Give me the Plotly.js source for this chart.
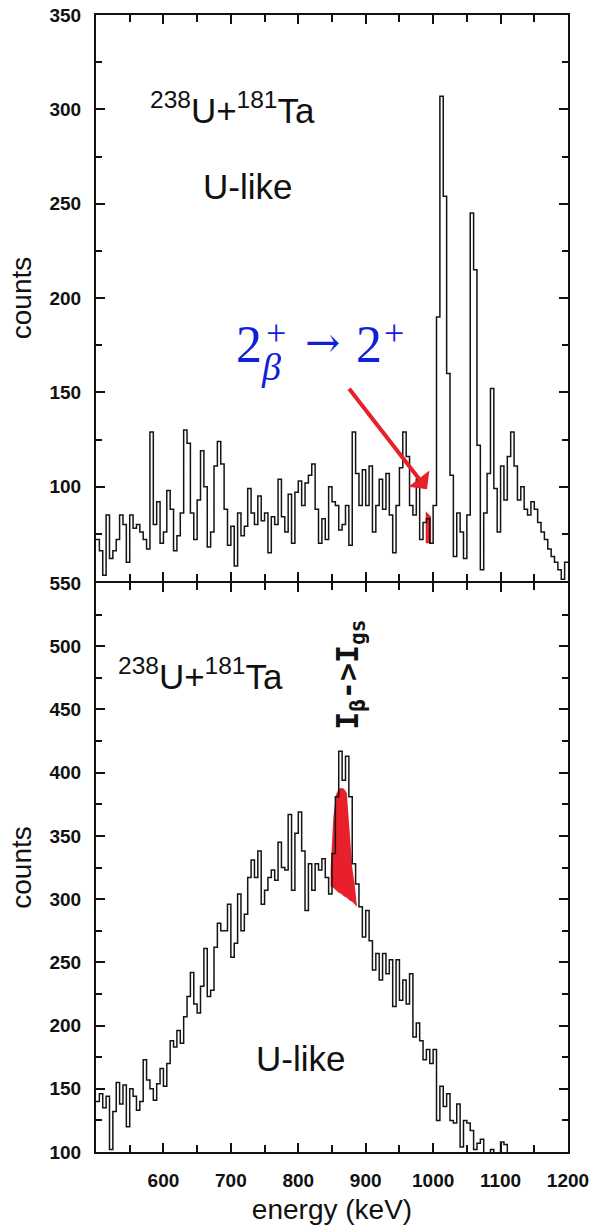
<!DOCTYPE html>
<html>
<head>
<meta charset="utf-8">
<script src="https://cdn.plot.ly/plotly-3.0.1.min.js"></script>
<style>html,body{margin:0;padding:0;background:#fff;}</style>
</head>
<body>
<div id="chart" style="width:595px;height:1227px;"></div>
<script>
// ---- data ----
const energyStart = 500;   // keV, first bin edge
const binWidth = 5;        // keV

// upper panel: 238U + 181Ta, U-like, counts per 5 keV bin from 500 to 1195 keV
const topCounts = [
  72, 66, 53, 85, 62, 66, 72, 85, 80, 60,
  85, 78, 80, 76, 72, 67, 129, 80, 92, 70,
  76, 98, 88, 66, 74, 86, 130, 123, 86, 72,
  93, 119, 100, 68, 76, 111, 124, 112, 88, 69,
  79, 58, 86, 74, 79, 99, 86, 80, 95, 82,
  86, 65, 84, 80, 104, 84, 76, 96, 70, 97,
  103, 90, 102, 106, 112, 88, 70, 83, 72, 100,
  92, 90, 77, 80, 90, 69, 129, 107, 90, 109,
  90, 111, 76, 90, 104, 88, 107, 85, 65, 90,
  110, 129, 116, 90, 85, 104, 72, 81, 83, 70,
  90, 190, 307, 254, 160, 106, 63, 86, 76, 62,
  85, 245, 215, 122, 56, 86, 107, 152, 99, 76,
  111, 93, 116, 129, 111, 93, 100, 88, 85, 92,
  88, 81, 76, 72, 67, 63, 60, 56, 51, 60
];

// lower panel: counts per 5 keV bin from 500 to 1195 keV
const bottomCounts = [
  140, 146, 135, 144, 102, 132, 155, 138, 153, 120,
  150, 144, 133, 140, 173, 157, 150, 141, 154, 166,
  152, 170, 188, 183, 196, 186, 207, 223, 242, 217,
  210, 231, 261, 223, 228, 262, 281, 275, 275, 296,
  254, 265, 304, 275, 288, 317, 331, 317, 338, 296,
  307, 317, 323, 315, 345, 325, 323, 367, 307, 352,
  369, 338, 291, 328, 307, 328, 323, 332, 317, 304,
  336, 381, 417, 394, 413, 381, 328, 312, 294, 270,
  291, 267, 244, 257, 236, 257, 241, 252, 215, 252,
  220, 236, 217, 241, 191, 202, 188, 173, 181, 170,
  181, 125, 152, 136, 146, 125, 123, 138, 104, 125,
  123, 117, 102, 107, 110, 96, 92, 102, 94, 90,
  108, 106, 92, 88, 86, 84, 82, 85, 80, 78,
  76, 74, 72, 70, 68, 66, 64, 62, 60, 58
];

// red highlighted 2beta+ -> 2+ region (upper panel)
const redTopEnergy = [989, 997];
const redTopBase = [70, 70];
const redTopPeak = [87, 84];

// red highlighted I_beta -> I_gs region (lower panel)
const redBotEnergy = [848, 852, 856, 860, 864, 868, 872, 876, 880, 884, 887];
const redBotUpper  = [325, 365, 383, 387, 388, 387, 384, 355, 325, 310, 294];
const redBotLower  = [310, 309, 307, 305, 304, 302, 301, 299, 298, 296, 294];

// tick labels
const xTickVals = [500, 600, 700, 800, 900, 1000, 1100, 1200];
const xTickText = ['', '600', '700', '800', '900', '1000', '1100', '1200'];
const topYTickVals = [50, 100, 150, 200, 250, 300, 350];
const topYTickText = ['', '100', '150', '200', '250', '300', '350'];
const botYTickVals = [100, 150, 200, 250, 300, 350, 400, 450, 500, 550];
const botYTickText = ['100', '150', '200', '250', '300', '350', '400', '450', '500', '550'];

// ---- build step histograms ----
function stepX(counts) {
  const xs = counts.map((_, i) => energyStart + i * binWidth);
  xs.push(energyStart + counts.length * binWidth);
  return xs;
}
function stepY(counts) {
  const ys = counts.slice();
  ys.push(counts[counts.length - 1]);
  return ys;
}

const BLACK = '#141414';
const RED = '#e8202c';
const BLUE = '#1020d8';

const traces = [
  {x: redTopEnergy, y: redTopBase, xaxis: 'x', yaxis: 'y', mode: 'lines',
   line: {width: 0, color: RED}, hoverinfo: 'skip'},
  {x: redTopEnergy, y: redTopPeak, xaxis: 'x', yaxis: 'y', mode: 'lines',
   fill: 'tonexty', fillcolor: RED, line: {width: 0, color: RED}, hoverinfo: 'skip'},
  {x: stepX(topCounts), y: stepY(topCounts), xaxis: 'x', yaxis: 'y', mode: 'lines',
   line: {shape: 'hv', color: BLACK, width: 1.5}},
  {x: redBotEnergy, y: redBotLower, xaxis: 'x2', yaxis: 'y2', mode: 'lines',
   line: {width: 0, color: RED}, hoverinfo: 'skip'},
  {x: redBotEnergy, y: redBotUpper, xaxis: 'x2', yaxis: 'y2', mode: 'lines',
   fill: 'tonexty', fillcolor: RED, line: {width: 0, color: RED}, hoverinfo: 'skip'},
  {x: stepX(bottomCounts), y: stepY(bottomCounts), xaxis: 'x2', yaxis: 'y2', mode: 'lines',
   line: {shape: 'hv', color: BLACK, width: 1.5}}
];

const tickFont = {family: 'Liberation Sans, Arial, sans-serif', size: 19, color: '#111', weight: 'bold'};
const common = {
  showline: true, linecolor: '#111', linewidth: 2, mirror: 'allticks',
  ticks: 'inside', ticklen: 9, tickwidth: 2, tickcolor: '#111',
  showgrid: false, zeroline: false, tickfont: tickFont, fixedrange: true
};

const split = 0.5013;
const half = 1 / 1137;

const layout = {
  width: 595, height: 1227,
  margin: {l: 96, r: 27, t: 15, b: 75},
  paper_bgcolor: '#ffffff', plot_bgcolor: '#ffffff',
  showlegend: false,
  font: {family: 'Liberation Sans, Arial, sans-serif', color: '#111'},
  xaxis: Object.assign({}, common, {
    anchor: 'y', range: [500, 1200], tickmode: 'array', tickvals: xTickVals, ticktext: xTickText,
    showticklabels: false,
    minor: {dtick: 50, tick0: 500, ticks: 'inside', ticklen: 7, tickwidth: 2, tickcolor: '#111'}
  }),
  yaxis: Object.assign({}, common, {
    domain: [split + half, 1], anchor: 'x', range: [50, 350], tickmode: 'array',
    tickvals: topYTickVals, ticktext: topYTickText, ticklabelstandoff: 9,
    minor: {dtick: 25, tick0: 50, ticks: 'inside', ticklen: 6, tickwidth: 2, tickcolor: '#111'},
    title: {text: 'counts', font: {size: 28, color: '#111'}, standoff: 10}
  }),
  xaxis2: Object.assign({}, common, {
    anchor: 'y2', range: [500, 1200], tickmode: 'array', tickvals: xTickVals, ticktext: xTickText,
    ticklabelstandoff: 10,
    minor: {dtick: 50, tick0: 500, ticks: 'inside', ticklen: 7, tickwidth: 2, tickcolor: '#111'},
    title: {text: 'energy (keV)', font: {size: 28, color: '#111'}, standoff: 10}
  }),
  yaxis2: Object.assign({}, common, {
    domain: [0, split - half], anchor: 'x2', range: [100, 550], tickmode: 'array',
    tickvals: botYTickVals, ticktext: botYTickText, ticklabelstandoff: 9,
    minor: {dtick: 25, tick0: 100, ticks: 'inside', ticklen: 6, tickwidth: 2, tickcolor: '#111'},
    title: {text: 'counts', font: {size: 28, color: '#111'}, standoff: 10}
  }),
  annotations: [
    // upper panel labels
    {xref: 'x', yref: 'y', x: 701.7, y: 300.8, text: '<sup>238</sup>U+<sup>181</sup>Ta',
     showarrow: false, font: {size: 35, color: '#111'}},
    {xref: 'x', yref: 'y', x: 724.6, y: 259, text: 'U-like',
     showarrow: false, font: {size: 35, color: '#111'}},
    // blue transition label 2_beta^+ -> 2^+
    {xref: 'x', yref: 'y', x: 727.5, y: 175.5, text: '2', showarrow: false,
     font: {family: 'Liberation Serif, DejaVu Serif, serif', size: 52, color: BLUE}},
    {xref: 'x', yref: 'y', x: 766.5, y: 181.2, text: '+', showarrow: false,
     font: {family: 'Liberation Serif, DejaVu Serif, serif', size: 36, color: BLUE}},
    {xref: 'x', yref: 'y', x: 760, y: 163.5, text: '<i>β</i>', showarrow: false,
     font: {family: 'Liberation Serif, DejaVu Serif, serif', size: 38, color: BLUE}},
    {xref: 'x', yref: 'y', x: 835.2, y: 176.3, text: '→', showarrow: false,
     font: {family: 'DejaVu Serif, Liberation Serif, serif', size: 42, color: BLUE}},
    {xref: 'x', yref: 'y', x: 904.9, y: 175.5, text: '2', showarrow: false,
     font: {family: 'Liberation Serif, DejaVu Serif, serif', size: 52, color: BLUE}},
    {xref: 'x', yref: 'y', x: 942.5, y: 181.2, text: '+', showarrow: false,
     font: {family: 'Liberation Serif, DejaVu Serif, serif', size: 36, color: BLUE}},
    // red arrow
    {xref: 'x', yref: 'y', axref: 'x', ayref: 'y', x: 990.9, y: 98.7, ax: 873.7, ay: 152.7,
     text: '', showarrow: true, arrowhead: 1, arrowsize: 1.1, arrowwidth: 4, arrowcolor: RED, standoff: 0},
    // lower panel labels
    {xref: 'x2', yref: 'y2', x: 655.7, y: 478, text: '<sup>238</sup>U+<sup>181</sup>Ta',
     showarrow: false, font: {size: 35, color: '#111'}},
    {xref: 'x2', yref: 'y2', x: 876, y: 477, text: 'I<sub>β</sub>->I<sub>gs</sub>', textangle: -90,
     showarrow: false, font: {family: 'DejaVu Sans Mono, monospace', size: 30, color: '#111', weight: 'bold'}},
    {xref: 'x2', yref: 'y2', x: 803.3, y: 174.2, text: 'U-like',
     showarrow: false, font: {size: 35, color: '#111'}}
  ]
};

Plotly.newPlot('chart', traces, layout, {displayModeBar: false, staticPlot: true});
</script>
</body>
</html>
